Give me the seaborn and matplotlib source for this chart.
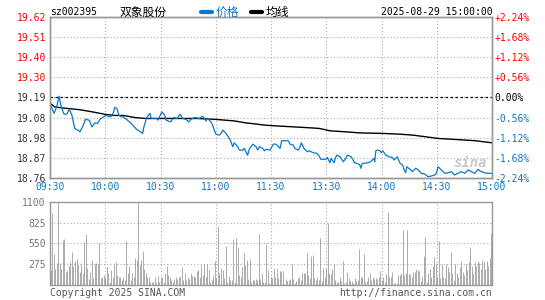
import numpy as np
import pandas as pd
import seaborn as sns
import matplotlib
matplotlib.use("Agg")
import matplotlib.pyplot as plt
from matplotlib.lines import Line2D

# price trace (minutes after 09:30, trading time only)
price_minute = [0, 2.2, 3.6, 4.9, 6.1, 7.6, 9.1, 10.5, 11.9, 13.4, 15.6, 16.3, 17.7, 19.2, 21.3,
                22.8, 24.3, 25.7, 27.1, 28.6, 30, 31.5, 33, 34.4, 35.1, 36.5, 37.3, 38.7,
                39.1, 41.6, 44.2, 47.1, 49.2, 50.3, 51, 52.5, 54.3, 55, 56.5, 57.9, 58.6, 60.1,
                60.8, 62.3, 63, 65.5, 67.3, 69.1, 70.6, 72.1, 73.8, 75.3, 76.4, 78.6,
                81.1, 82.9, 84.7, 85.6, 87.4, 88.3, 89.2, 90.1, 91.9, 92.9, 93.8, 95.6, 97.4,
                98.3, 99.2, 100.1, 101.9, 102.8, 104.6, 105.5, 107.3, 108.2, 110.1, 111.9,
                112.8, 113.7, 115.5, 116.4, 117.3,
                119.5, 121.3, 122.7, 124, 124.9, 125.8, 127.6, 129.4, 130.3, 132.1, 133, 134.8,
                135.8, 136.5, 137.9, 139.7, 140.8, 143, 144.8, 146.2, 147, 149.9, 150.6, 152,
                152.7, 154.2, 154.9, 155.7, 157.5, 159.3,
                160.6, 161.4, 163.6, 165.4, 166.9, 168.3, 168.7, 169.6, 172.3, 174.1, 175.9,
                176.3, 176.9, 177.7, 179.2, 179.9, 180.7, 182.4, 184.1, 185.9, 186.8, 188.6,
                190.1, 191.5, 192.2, 193.1, 193.7, 195.9, 196.8, 198.6,
                200, 201.6, 203.5, 205.3, 207.1, 208.9, 209.8, 210.7, 212.5, 214.3, 216.1,
                217.9, 219.7, 221.5, 223.3, 225.2, 227, 228.8, 230.6, 232.4, 234.2, 236.1,
                237.9, 240]
price_value = [19.158, 19.105, 19.140, 19.197, 19.140, 19.101, 19.101, 19.126, 19.096, 19.025,
               19.012, 19.007, 19.033, 19.073, 19.069, 19.033, 19.055, 19.051, 19.073, 19.083,
               19.094, 19.090, 19.087, 19.108, 19.137, 19.129, 19.096, 19.087,
               19.090, 19.073, 19.051, 19.019, 19.007, 18.998, 19.033, 19.083, 19.105, 19.078,
               19.078, 19.078, 19.069, 19.101, 19.113, 19.096, 19.069, 19.060, 19.083, 19.078,
               19.101, 19.078, 19.073, 19.060, 19.073, 19.083,
               19.078, 19.090, 19.065, 19.078, 19.060, 19.042, 19.016, 18.994, 18.989, 18.998,
               19.016, 18.998, 18.971, 18.953, 18.927, 18.948, 18.927, 18.909, 18.909, 18.918,
               18.882, 18.913, 18.941, 18.927, 18.909, 18.927, 18.918, 18.905, 18.913,
               18.909, 18.941, 18.941, 18.927, 18.918, 18.959, 18.959, 18.959, 18.941, 18.936,
               18.918, 18.909, 18.927, 18.948, 18.918, 18.900, 18.905, 18.895, 18.892, 18.877,
               18.860, 18.860, 18.870, 18.841, 18.865, 18.841, 18.865, 18.882, 18.873, 18.847,
               18.865, 18.882, 18.873, 18.841, 18.838, 18.829, 18.812, 18.838, 18.841, 18.847,
               18.865, 18.847, 18.905, 18.909, 18.905, 18.895, 18.905, 18.882, 18.873, 18.870,
               18.856, 18.873, 18.838, 18.829, 18.806, 18.788, 18.820, 18.803, 18.794, 18.812,
               18.803, 18.785, 18.781, 18.767, 18.771, 18.776, 18.785, 18.820, 18.803, 18.785,
               18.788, 18.794, 18.776, 18.785, 18.794, 18.785, 18.803, 18.794, 18.785, 18.806,
               18.794, 18.788, 18.785, 18.785]

avg_minute = [0, 2.5, 6, 11, 16, 22, 30, 35, 40, 46, 52, 80, 90, 100, 106, 112, 117, 125, 138,
              146, 149, 152, 160, 168, 181, 190, 197, 201, 211, 220, 231, 240]
avg_value = [19.16, 19.14, 19.135, 19.13, 19.125, 19.115, 19.10, 19.094, 19.094, 19.083,
             19.078, 19.078, 19.073, 19.065, 19.055, 19.048, 19.042, 19.037, 19.030, 19.025,
             19.019, 19.012, 19.007, 19.001, 18.998, 18.994, 18.989, 18.984, 18.971, 18.966,
             18.959, 18.948]

# per-minute volume (morning / afternoon)
vol_am = [198, 955, 409, 211, 286, 1100, 295, 211, 594, 607, 176, 185, 251, 308, 440, 251, 321,
          339, 264, 176, 286, 163, 572, 673, 220, 75, 176, 330, 88, 277, 295, 277, 559, 88, 101,
          132, 97, 242, 163, 44, 198, 101, 264, 308, 132, 101, 101, 66, 101, 66, 585, 154, 251,
          66, 163, 110, 352, 330, 1100, 264, 330, 449, 207, 163, 101, 101, 44, 44, 44, 101, 44,
          119, 44, 88, 101, 44, 154, 251, 132, 101, 66, 44, 75, 101, 75, 101, 119, 233, 66, 163,
          66, 101, 75, 154, 119, 119, 101, 189, 198, 101, 264, 132, 277, 101, 277, 198, 44, 66,
          132, 321, 88, 779, 154, 220, 198, 88, 515, 44, 119, 66, 66, 603, 44, 616, 506, 132,
          101, 233, 427, 264, 330, 75, 339, 44, 66, 66, 75, 66, 673, 75, 163, 44, 44, 541, 198,
          31]
vol_pm = [101, 88, 220, 101, 207, 88, 185, 185, 185, 9, 75, 57, 66, 75, 277, 75, 31, 57, 88,
          101, 66, 154, 154, 154, 427, 132, 88, 383, 396, 88, 66, 101, 66, 625, 57, 220, 101,
          220, 814, 154, 145, 207, 277, 66, 44, 44, 101, 57, 321, 31, 44, 176, 88, 57, 57, 31,
          88, 57, 66, 471, 101, 101, 409, 44, 57, 101, 163, 66, 101, 75, 88, 75, 101, 185, 66,
          101, 44, 145, 968, 101, 101, 176, 31, 31, 31, 132, 132, 154, 726, 132, 163, 726, 145,
          145, 101, 176, 176, 207, 198, 185, 57, 101, 383, 638, 44, 154, 207, 101, 251, 374,
          295, 101, 585, 88, 277, 101, 88, 277, 233, 176, 440, 154, 66, 277, 154, 101, 233, 321,
          176, 132, 277, 198, 308, 497, 251, 163, 308, 251, 321, 286, 211, 330, 321, 207, 321,
          251, 352, 682]

prev_close = 19.19
price_ticks = ["19.62", "19.51", "19.40", "19.30", "19.19", "19.08", "18.98", "18.87", "18.76"]
pct_ticks = ["+2.24%", "+1.68%", "+1.12%", "+0.56%", "0.00%", "-0.56%", "-1.12%", "-1.68%", "-2.24%"]
time_ticks = ["09:30", "10:00", "10:30", "11:00", "11:30", "13:30", "14:00", "14:30", "15:00"]
vol_ticks = [275, 550, 825, 1100]

BLUE = "#0b78c9"
RED = "#ff0000"
GRID = "#aaaaaa"
FRAME = "#999999"

sns.set_theme(style="white")
plt.rcParams["font.family"] = ["DejaVu Sans Mono", "Noto Sans CJK SC"]

df_price = pd.DataFrame({"minute": price_minute, "price": price_value})
df_avg = pd.DataFrame({"minute": avg_minute, "price": avg_value})

fig = plt.figure(figsize=(5.45, 3.0), dpi=100)
ax = fig.add_axes([50 / 545, 1 - 178 / 300, 442 / 545, 161 / 300])
axv = fig.add_axes([50 / 545, 1 - 285 / 300, 442 / 545, 83.3 / 300])

ylo, yhi = float(price_ticks[-1]), float(price_ticks[0])
yt = np.linspace(yhi, ylo, len(price_ticks))
xt = np.linspace(0, 240, len(time_ticks))

sns.lineplot(data=df_avg, x="minute", y="price", ax=ax, color="black", lw=1.0)
sns.lineplot(data=df_price, x="minute", y="price", ax=ax, color=BLUE, lw=0.9)
ax.axhline(prev_close, color="black", ls=(0, (2, 2)), lw=0.9)

ax.set_xlim(0, 240)
ax.set_ylim(ylo, yhi)
ax.set_xticks(xt)
ax.set_xticklabels(time_ticks, fontsize=7, color=BLUE)
ax.set_yticks(yt)
ax.set_yticklabels(price_ticks, fontsize=7)
for lab, t in zip(ax.get_yticklabels(), price_ticks):
    v = float(t)
    lab.set_color(RED if v > prev_close + 0.001 else "#333333")
ax.tick_params(length=0, pad=3)
ax.grid(True, color=GRID, ls=(0, (1, 2)), lw=0.8)
ax.set_xlabel("")
ax.set_ylabel("")

ax2 = ax.twinx()
ax2.set_ylim(ylo, yhi)
ax2.set_yticks(yt)
ax2.set_yticklabels(pct_ticks, fontsize=7)
for lab, t in zip(ax2.get_yticklabels(), pct_ticks):
    lab.set_color(RED if t.startswith("+") else (BLUE if t.startswith("-") else "black"))
ax2.tick_params(length=0, pad=2)
ax2.grid(False)

# volume
pos_am = np.linspace(0.5, 119, len(vol_am))
pos_pm = np.linspace(120, 239.5, len(vol_pm))
axv.vlines(pos_am, 0, vol_am, color="#8c8c8c", lw=0.5)
axv.vlines(pos_pm, 0, vol_pm, color="#8c8c8c", lw=0.5)
axv.set_xlim(0, 240)
axv.set_ylim(0, 1100)
axv.set_xticks(xt)
axv.set_xticklabels([])
axv.set_yticks(vol_ticks)
axv.set_yticklabels([str(v) for v in vol_ticks], fontsize=7, color="#777777")
axv.tick_params(length=0, pad=3)
axv.grid(True, color=GRID, ls=(0, (1, 2)), lw=0.8)

for a in (ax, ax2, axv):
    for s in a.spines.values():
        s.set_color(FRAME)
        s.set_linewidth(1)

# header
hy = 1 - 12 / 300
fig.text(50 / 545, hy, "sz002395", fontsize=7, color="black", va="center")
fig.text(120 / 545, hy, "双象股份", fontsize=8.5, color="black", va="center")
fig.add_artist(Line2D([201 / 545, 212 / 545], [hy, hy], color=BLUE, lw=3))
fig.text(216 / 545, hy, "价格", fontsize=8.5, color=BLUE, va="center")
fig.add_artist(Line2D([251 / 545, 262 / 545], [hy, hy], color="black", lw=3))
fig.text(266 / 545, hy, "均线", fontsize=8.5, color="black", va="center")
fig.text(493 / 545, hy, "2025-08-29 15:00:00", fontsize=7, color="black", va="center", ha="right")

# footer and watermark
fy = 1 - 293 / 300
fig.text(50 / 545, fy, "Copyright 2025 SINA.COM", fontsize=7, color="#555555", va="center")
fig.text(492 / 545, fy, "http://finance.sina.com.cn", fontsize=7, color="#555555",
         va="center", ha="right")
fig.text(470 / 545, 1 - 163 / 300, "sina", fontsize=10, color="#bbbbbb", style="italic",
         weight="bold", ha="center", va="center", alpha=0.8)

fig.savefig("out.png", dpi=100)
